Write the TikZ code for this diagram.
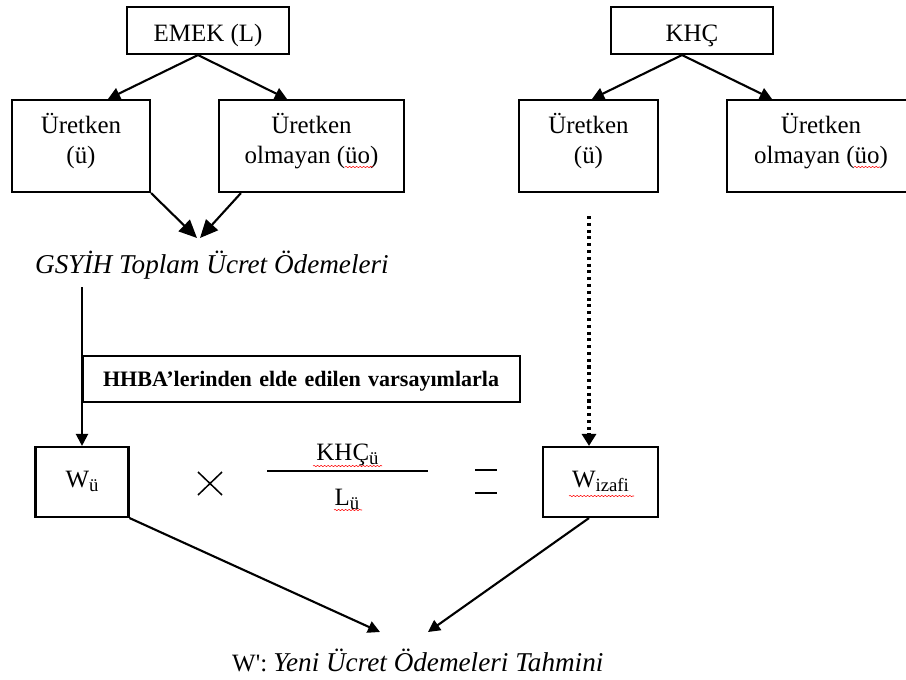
\documentclass[tikz,border=0pt]{standalone}
\usepackage{fontspec}
\setmainfont{Liberation Serif}
\usetikzlibrary{arrows.meta,calc,decorations.pathmorphing}
\newcommand{\lowtxt}[1]{\raisebox{-0.2em}{\fontsize{16}{18}\selectfont #1}}
\tikzset{
  box/.style={draw, line width=1.8pt, align=center, inner sep=0pt, font=\fontsize{21.3}{25.6}\selectfont},
  onebox/.style={box, minimum width=4.86cm, minimum height=1.41cm, text height=0.69cm, text depth=0pt},
  twobox/.style={box, minimum height=2.76cm, text height=1.02cm, text depth=0pt},
  wbox/.style={box, minimum height=2.1cm, text height=0.3cm, text depth=0pt},
  line/.style={-{Triangle[length=0.36cm,width=0.36cm]}, line width=1.8pt},
  bigline/.style={-{Triangle[length=0.54cm,width=0.48cm]}, line width=1.8pt},
  dotline/.style={-{Triangle[length=0.36cm,width=0.42cm]}, line width=2.6pt, dash pattern=on 2.6pt off 3.2pt},
  sign/.style={line width=1.3pt},
  wavy/.style={draw=red, line width=0.45pt, decorate, decoration={snake, amplitude=0.55pt, segment length=3pt}},
  itext/.style={font=\fontsize{23.2}{27}\selectfont\itshape, inner sep=0pt},
  plain/.style={font=\fontsize{21.3}{25.6}\selectfont, inner sep=0pt}
}
\begin{document}
\begin{tikzpicture}[x=0.03cm, y=-0.03cm]
  \useasboundingbox (0,0) rectangle (906,680);
  \clip (0,0) rectangle (906,680);
  % top boxes
  \node[onebox] (emek) at (208,30.5) {EMEK (L)};
  \node[twobox, minimum width=4.14cm] (uretL) at (81,146) {Üretken\\(ü)};
  \node[twobox, minimum width=5.55cm] (olmL) at (311.5,146) {Üretken\\olmayan (üo)};
  \node[onebox] (khc) at (692,30.5) {KHÇ};
  \node[twobox, minimum width=4.17cm] (uretR) at (588.5,146) {Üretken\\(ü)};
  \node[twobox, minimum width=5.64cm] (olmR) at (821,146) {Üretken\\olmayan (üo)};
  % middle
  \node[itext, anchor=base west] (gsyih) at (35,273) {GSYİH Toplam Ücret Ödemeleri};
  \node[draw, line width=1.8pt, anchor=north west, minimum width=13.11cm, minimum height=1.38cm,
        inner xsep=0.6cm, inner ysep=0pt, text width=11.91cm, align=left, text height=0.42cm, text depth=0pt,
        font=\fontsize{18.8}{22}\selectfont\bfseries] (hhba) at (82,355) {HHBA’lerinden elde edilen varsayımlarla};
  \node[wbox, minimum width=2.79cm] (wu) at (82,482) {W\lowtxt{ü}};
  \node[wbox, minimum width=3.45cm] (wiz) at (600.5,482) {W\lowtxt{izafi}};
  \node[plain, anchor=base] (khcu) at (347.5,460) {KHÇ\lowtxt{ü}};
  \node[plain, anchor=base] (lu) at (347,505) {L\lowtxt{ü}};
  \node[plain, anchor=base west] (wnew) at (232,671) {W\textquotesingle: {\fontsize{23.2}{27}\selectfont\itshape Yeni Ücret Ödemeleri Tahmini}};
  % free ends
  \coordinate (gs1) at (197,238);
  \coordinate (gs2) at (200,238);
  \coordinate (hline) at (82,287);
  \coordinate (dtop) at (589,216);
  \coordinate (tipL) at (380,632);
  \coordinate (tipR) at (428,632);
  \coordinate (barL) at (267,471);
  \coordinate (barR) at (428,471);
  % connectors
  \draw[line] ($(emek.south)+(-10,0)$) -- ($(uretL.north)+(27,0)$);
  \draw[line] ($(emek.south)+(-10,0)$) -- ($(olmL.north)+(-24.5,0)$);
  \draw[line] ($(khc.south)+(-10,0)$) -- ($(uretR.north)+(3.5,0)$);
  \draw[line] ($(khc.south)+(-10,0)$) -- ($(olmR.north)+(-49,0)$);
  \draw[bigline] (uretL.south east) -- (gs1);
  \draw[bigline] ($(olmL.south west)+(23,0)$) -- (gs2);
  \draw[line] (hline) -- (wu.north);
  \draw[dotline] (dtop) -- (dtop |- wiz.north);
  \draw[line] (wu.south east) -- (tipL);
  \draw[line] (dtop |- wiz.south) -- (tipR);
  % signs
  \draw[sign] (barL) -- (barR);
  \draw[sign] (198,472) -- (222,495) (198,495) -- (222,472);
  \draw[line width=1.6pt] (475,470) -- (497,470) (475,493) -- (497,493);
  % spelling marks
  \draw[wavy] (345,167) -- (373,167);
  \draw[wavy] (854,167) -- (880,167);
  \draw[wavy] (313,466) -- (382,466);
  \draw[wavy] (334,510) -- (362,510);
  \draw[wavy] (569,496) -- (634,496);
\end{tikzpicture}
\end{document}
